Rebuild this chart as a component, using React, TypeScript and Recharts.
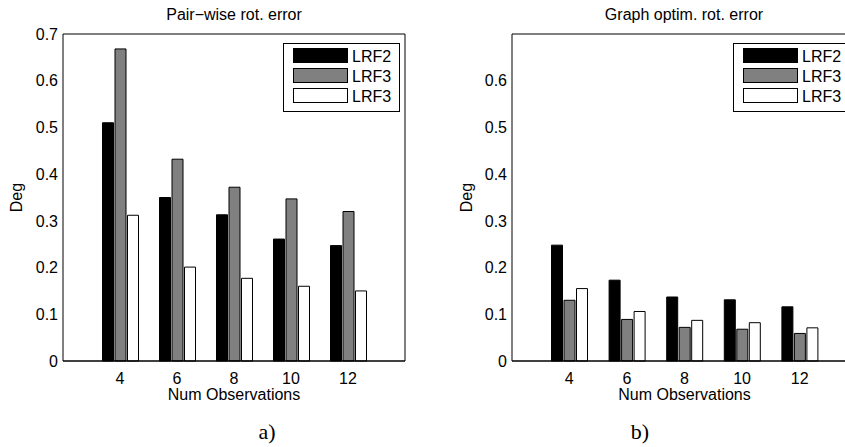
import React from 'react';
import { BarChart, Bar, XAxis, YAxis, Legend, Label } from 'recharts';

// number of observations on the x axis
const observations = [4, 6, 8, 10, 12];

// a) pair-wise rotation error (deg)
const pairLRF2 = [0.51, 0.35, 0.313, 0.261, 0.247];
const pairLRF3 = [0.668, 0.432, 0.372, 0.347, 0.32];
const pairLRF3b = [0.312, 0.201, 0.177, 0.16, 0.15];

// b) graph optimised rotation error (deg)
const graphLRF2 = [0.248, 0.173, 0.137, 0.131, 0.116];
const graphLRF3 = [0.13, 0.089, 0.072, 0.068, 0.059];
const graphLRF3b = [0.155, 0.106, 0.087, 0.082, 0.071];

const ticksPair = [0, 0.1, 0.2, 0.3, 0.4, 0.5, 0.6, 0.7];
const ticksGraph = [0, 0.1, 0.2, 0.3, 0.4, 0.5, 0.6];
const seriesNames = ['LRF2', 'LRF3', 'LRF3'];

const FONT = '"Liberation Sans", Arial, Helvetica, sans-serif';

const buildRows = (a: number[], b: number[], c: number[]) =>
  observations.map((obs, i) => ({ obs, lrf2: a[i], lrf3: b[i], lrf3b: c[i] }));

const LegendBox = ({ payload }: any) => (
  <svg width={118} height={70} style={{ display: 'block', overflow: 'visible' }}>
    <rect x={0.5} y={0.5} width={116} height={68} fill="#fff" stroke="#000" />
    {(payload || []).map((p: any, i: number) => (
      <g key={i}>
        <rect
          x={10.5}
          y={5.5 + i * 20}
          width={54}
          height={14}
          fill={p.color || p.payload?.fill}
          stroke="#000"
        />
        <text
          x={69}
          y={13 + i * 20}
          dominantBaseline="central"
          fontSize={16}
          fontFamily={FONT}
          fill="#000"
        >
          {p.value}
        </text>
      </g>
    ))}
  </svg>
);

const degLabel = (dx: number) => ({ viewBox }: any) => {
  const x = viewBox.x + dx;
  const y = viewBox.y + viewBox.height / 2;
  return (
    <text
      x={x}
      y={y}
      transform={`rotate(-90 ${x} ${y})`}
      textAnchor="middle"
      dominantBaseline="central"
      fontSize={16}
      fontFamily={FONT}
      fill="#000"
    >
      Deg
    </text>
  );
};

const obsLabel = ({ viewBox }: any) => (
  <text
    x={viewBox.x + viewBox.width / 2}
    y={viewBox.y + 33}
    textAnchor="middle"
    dominantBaseline="central"
    fontSize={16}
    fontFamily={FONT}
    fill="#000"
  >
    Num Observations
  </text>
);

interface PanelProps {
  rows: any[];
  width: number;
  yWidth: number;
  marginRight: number;
  ticks: number[];
  degX: number;
  legendLeft: number;
}

const Panel = ({ rows, width, yWidth, marginRight, ticks, degX, legendLeft }: PanelProps) => (
  <BarChart
    width={width}
    height={447}
    data={rows}
    margin={{ top: 34, right: marginRight, left: 0, bottom: 46 }}
    barSize={11}
    barGap={1.5}
    style={{ fontFamily: FONT }}
  >
    <XAxis
      dataKey="obs"
      height={40}
      padding={{ left: 28.5, right: 28.5 }}
      tickLine={false}
      tickSize={12}
      tickMargin={0}
      tick={{ fill: '#000', fontSize: 16 }}
      axisLine={{ stroke: '#000', strokeWidth: 1.5 }}
    >
      <Label content={obsLabel} />
    </XAxis>
    <XAxis
      xAxisId="top"
      dataKey="obs"
      orientation="top"
      mirror
      padding={{ left: 28.5, right: 28.5 }}
      tick={false}
      tickSize={5}
      tickLine={{ stroke: '#000' }}
      axisLine={{ stroke: '#000' }}
    />
    <YAxis
      type="number"
      domain={[0, 0.7]}
      ticks={ticks}
      width={yWidth}
      tickLine={false}
      tickSize={5}
      tickMargin={0}
      tick={{ fill: '#000', fontSize: 16 }}
      axisLine={{ stroke: '#000' }}
    >
      <Label content={degLabel(degX)} />
    </YAxis>
    <YAxis
      yAxisId="leftIn"
      type="number"
      domain={[0, 0.7]}
      ticks={ticks}
      orientation="left"
      mirror
      tick={false}
      tickSize={5}
      tickLine={{ stroke: '#000' }}
      axisLine={false}
    />
    <YAxis
      yAxisId="right"
      type="number"
      domain={[0, 0.7]}
      ticks={ticks}
      orientation="right"
      mirror
      tick={false}
      tickSize={5}
      tickLine={{ stroke: '#000' }}
      axisLine={{ stroke: '#000' }}
    />
    <Legend
      layout="horizontal"
      align="center"
      verticalAlign="middle"
      content={<LegendBox />}
      wrapperStyle={{ left: legendLeft, top: 43, width: 118, height: 70 }}
    />
    <Bar dataKey="lrf2" name={seriesNames[0]} fill="#000000" stroke="#000" strokeWidth={1} isAnimationActive={false} />
    <Bar dataKey="lrf3" name={seriesNames[1]} fill="#808080" stroke="#000" strokeWidth={1} isAnimationActive={false} />
    <Bar dataKey="lrf3b" name={seriesNames[2]} fill="#ffffff" stroke="#000" strokeWidth={1} isAnimationActive={false} />
  </BarChart>
);

const textStyle: React.CSSProperties = {
  position: 'absolute',
  fontFamily: FONT,
  fontSize: 16,
  lineHeight: '16px',
  color: '#000',
  textAlign: 'center',
  whiteSpace: 'nowrap',
};

const captionStyle: React.CSSProperties = {
  position: 'absolute',
  fontFamily: '"Liberation Serif", "Times New Roman", serif',
  fontSize: 22,
  lineHeight: '22px',
  color: '#000',
  textAlign: 'center',
  width: 60,
};

export default function App() {
  return (
    <div
      style={{
        position: 'absolute',
        left: 0,
        top: 0,
        width: 845,
        height: 447,
        overflow: 'hidden',
        background: '#fff',
      }}
    >
      <div style={{ position: 'absolute', left: 0, top: 0 }}>
        <Panel
          rows={buildRows(pairLRF2, pairLRF3, pairLRF3b)}
          width={420}
          yWidth={63}
          marginRight={15}
          ticks={ticksPair}
          degX={16}
          legendLeft={283}
        />
      </div>
      <div style={{ position: 'absolute', left: 420, top: 0 }}>
        <Panel
          rows={buildRows(graphLRF2, graphLRF3, graphLRF3b)}
          width={460}
          yWidth={92}
          marginRight={23}
          ticks={ticksGraph}
          degX={46.5}
          legendLeft={313}
        />
      </div>
      <div style={{ ...textStyle, left: 134, top: 7, width: 200 }}>Pair−wise rot. error</div>
      <div style={{ ...textStyle, left: 584, top: 7, width: 200 }}>Graph optim. rot. error</div>
      <div style={{ ...captionStyle, left: 237, top: 421 }}>a)</div>
      <div style={{ ...captionStyle, left: 610, top: 421 }}>b)</div>
    </div>
  );
}
